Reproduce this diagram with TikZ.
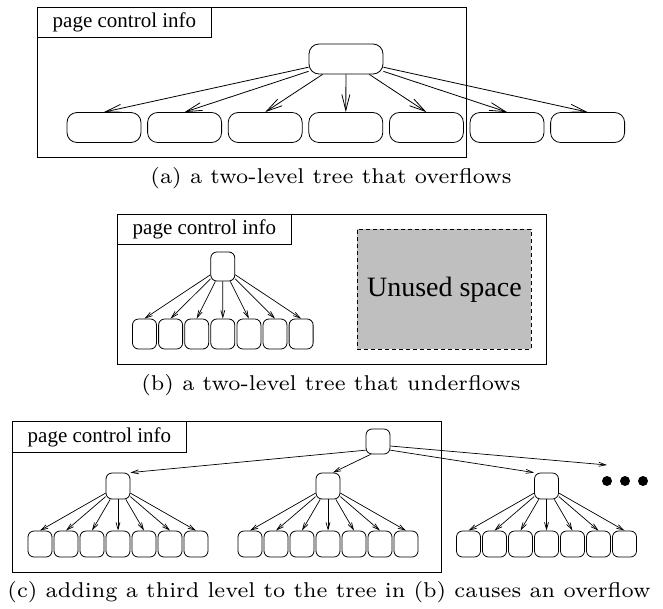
\documentclass[tikz,border=0pt]{standalone}
\usepackage{graphicx}
\usepackage{fontspec}
\newfontfamily\tms{Liberation Serif}
\usetikzlibrary{arrows.meta,calc}
\definecolor{unusedgray}{RGB}{191,191,191}
\newcommand{\captext}[1]{\scalebox{3.06}{\fontsize{7}{8}\selectfont #1}}
\begin{document}
\begin{tikzpicture}[x=1pt,y=-1pt,
  frame/.style={draw, line width=0.9pt, minimum width=429pt, minimum height=150pt, inner sep=0pt, anchor=north west},
  lbl/.style={draw, line width=0.9pt, minimum width=174pt, minimum height=30pt, inner sep=0pt, anchor=north west, font=\tms\fontsize{21}{21}\selectfont},
  bignode/.style={draw, rounded corners=10pt, minimum width=74pt, minimum height=30pt, inner sep=0pt, line width=0.8pt},
  smallnode/.style={draw, rounded corners=6pt, minimum width=24pt, minimum height=26pt, inner sep=0pt, line width=0.8pt},
  bigarrow/.style={-{Straight Barb[length=16pt,width=8pt]}, line width=0.8pt},
  smallarrow/.style={-{Straight Barb[length=7pt,width=4pt]}, line width=0.7pt},
  captxt/.style={anchor=base, inner sep=0pt},
  dot/.style={circle, fill=black, minimum size=10pt, inner sep=0pt}
]
\useasboundingbox (0,0) rectangle (663,608);

% ---------- (a) ----------
\node[frame] (fa) at (37,7) {};
\node[lbl] (la) at (37,7) {page control info};
\node[bignode] (ar) at (346,59) {};
\foreach \i in {0,...,6} {
  \node[bignode] (a\i) at ({104+80.6*\i},127.5) {};
  \draw[bigarrow] (ar) -- (a\i.north);
}
\node[captxt] (ca) at (331,183) {\captext{(a) a two-level tree that overflows}};

% ---------- (b) ----------
\node[frame] (fb) at (117,214) {};
\node[lbl] (lb) at (117,214) {page control info};
\node[smallnode, minimum height=29pt] (br) at (222.8,266.5) {};
\foreach \i in {0,...,6} {
  \node[smallnode, minimum height=30pt] (b\i) at ({144.5+26.1*\i},334) {};
  \draw[smallarrow] (br) -- (b\i.north);
}
\node[draw, dashed, line width=0.8pt, dash pattern=on 4pt off 3pt, fill=unusedgray,
  minimum width=174pt, minimum height=120pt, inner sep=0pt, anchor=north west,
  font=\tms\fontsize{28}{28}\selectfont] (unused) at (357,229) {Unused space};
\node[captxt] (cb) at (331,390) {\captext{(b) a two-level tree that underflows}};

% ---------- (c) ----------
\node[frame, minimum height=151pt] (fc) at (12,421) {};
\node[lbl, minimum height=31pt] (lc) at (12,421) {page control info};
\node[smallnode, minimum height=25pt] (cr) at (378,441.5) {};
\node[smallnode] (m1) at (118,486) {};
\node[smallnode] (m2) at (328,486) {};
\node[smallnode] (m3) at (546.5,486) {};
\foreach \m in {1,2,3} {
  \foreach \j in {0,...,6} {
    \node[smallnode] (l\m\j) at ($(m\m)+({26*(\j-3)},58)$) {};
    \draw[smallarrow] (m\m) -- (l\m\j.north);
  }
}
\draw[smallarrow] (cr.215) -- (m1.north east);
\draw[smallarrow] (cr.240) -- (m2.70);
\draw[smallarrow] (cr.325) -- (m3.north west);
\coordinate (more) at (607,465);
\draw[smallarrow] (cr.-20) -- (more);
\node[dot] (d1) at (607,481) {};
\node[dot] (d2) at (625,481) {};
\node[dot] (d3) at (643,481) {};
\node[captxt] (cc) at (329,597) {\captext{(c) adding a third level to the tree in (b) causes an overflow}};
\end{tikzpicture}
\end{document}
